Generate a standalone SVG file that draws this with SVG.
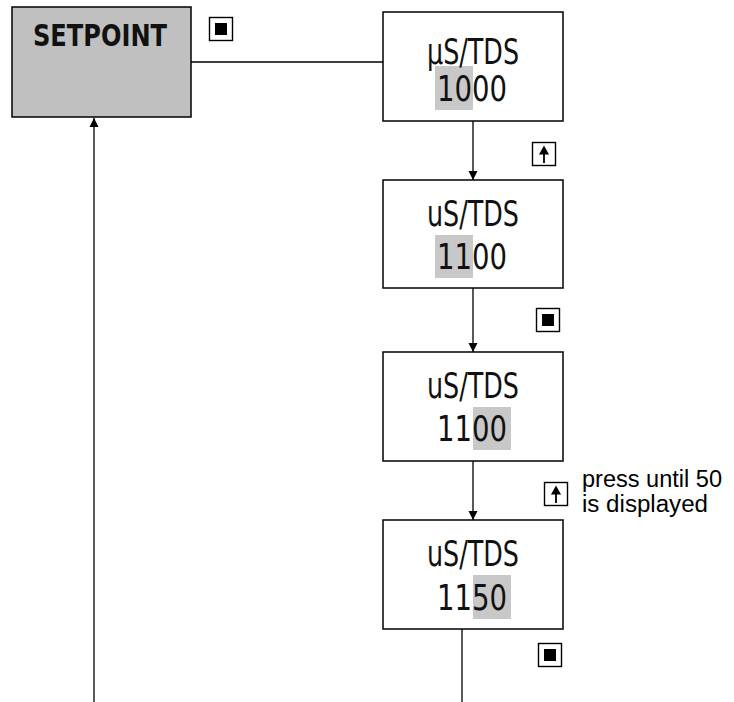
<svg xmlns="http://www.w3.org/2000/svg" width="734" height="702" viewBox="0 0 734 702">
<style>
.box{fill:#fff;stroke:#000;stroke-width:1.5}
.hl{fill:#c8c8c8}
.lbl{font-family:"Liberation Sans Narrow","DejaVu Sans Condensed","Liberation Sans",sans-serif;font-size:36px;fill:#111}
.conn{stroke:#000;stroke-width:1.3;fill:none}
.key{fill:#fff;stroke:#000;stroke-width:1.4}
.note{font-family:"Liberation Sans",Arial,sans-serif;font-size:23px;fill:#000}
</style>
<defs>
<marker id="ah" viewBox="0 0 10 10" refX="10" refY="5" markerWidth="9" markerHeight="10" markerUnits="userSpaceOnUse" orient="auto">
<path d="M0,0 L10,5 L0,10 z" fill="#000"/>
</marker>
<g id="kStop">
<rect class="key" x="-11.5" y="-11.5" width="23" height="23"/>
<rect x="-6" y="-6" width="12" height="12" fill="#000"/>
</g>
<g id="kUp">
<rect class="key" x="-11.5" y="-11.5" width="23" height="23"/>
<path d="M0,-8.5 L-5,0.5 L5,0.5 z" fill="#000"/>
<line x1="0" y1="0" x2="0" y2="9" stroke="#000" stroke-width="1.8"/>
</g>
</defs>

<g id="connectors">
<line class="conn" x1="191" y1="62" x2="383" y2="62"/>
<line class="conn" x1="473" y1="121" x2="473" y2="180" marker-end="url(#ah)"/>
<line class="conn" x1="473" y1="288" x2="473" y2="352" marker-end="url(#ah)"/>
<line class="conn" x1="473" y1="461" x2="473" y2="520" marker-end="url(#ah)"/>
<line class="conn" x1="462" y1="629" x2="462" y2="702"/>
<line class="conn" x1="94" y1="702" x2="94" y2="118" marker-end="url(#ah)"/>
</g>

<g id="setpoint">
<rect x="12" y="7" width="179" height="110" fill="#c0c0c0" stroke="#000" stroke-width="1.5"/>
<text x="33" y="46" textLength="134" lengthAdjust="spacingAndGlyphs" style="font-family:'DejaVu Sans Condensed','DejaVu Sans',sans-serif;font-weight:900;font-size:31px;fill:#111">SETPOINT</text>
</g>

<g id="box1">
<rect class="box" x="383" y="12" width="180" height="109"/>
<rect class="hl" x="435" y="66" width="38" height="44"/>
<text class="lbl" x="473" y="64" text-anchor="middle" textLength="92" lengthAdjust="spacingAndGlyphs">µS/TDS</text>
<text class="lbl" x="472" y="101" text-anchor="middle" textLength="70" lengthAdjust="spacingAndGlyphs">1000</text>
</g>

<g id="box2">
<rect class="box" x="383" y="180" width="180" height="108"/>
<rect class="hl" x="435" y="235" width="38" height="43"/>
<text class="lbl" x="473" y="226" text-anchor="middle" textLength="92" lengthAdjust="spacingAndGlyphs">uS/TDS</text>
<text class="lbl" x="472" y="269" text-anchor="middle" textLength="70" lengthAdjust="spacingAndGlyphs">1100</text>
</g>

<g id="box3">
<rect class="box" x="383" y="352" width="180" height="109"/>
<rect class="hl" x="473" y="407" width="38" height="43"/>
<text class="lbl" x="473" y="398" text-anchor="middle" textLength="92" lengthAdjust="spacingAndGlyphs">uS/TDS</text>
<text class="lbl" x="472" y="441" text-anchor="middle" textLength="70" lengthAdjust="spacingAndGlyphs">1100</text>
</g>

<g id="box4">
<rect class="box" x="383" y="520" width="180" height="109"/>
<rect class="hl" x="473" y="575" width="38" height="44"/>
<text class="lbl" x="473" y="566" text-anchor="middle" textLength="92" lengthAdjust="spacingAndGlyphs">uS/TDS</text>
<text class="lbl" x="472" y="610" text-anchor="middle" textLength="70" lengthAdjust="spacingAndGlyphs">1150</text>
</g>

<g id="key1"><use href="#kStop" x="221" y="29"/></g>
<g id="key2"><use href="#kUp" x="544" y="154"/></g>
<g id="key3"><use href="#kStop" x="548" y="320"/></g>
<g id="key4"><use href="#kUp" x="556" y="494"/></g>
<g id="key5"><use href="#kStop" x="550" y="655"/></g>

<g id="note">
<text class="note" x="582" y="487" textLength="140" lengthAdjust="spacingAndGlyphs">press until 50</text>
<text class="note" x="582" y="512" textLength="126" lengthAdjust="spacingAndGlyphs">is displayed</text>
</g>
</svg>
